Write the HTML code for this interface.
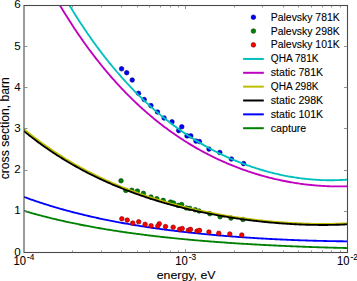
<!DOCTYPE html>
<html><head><meta charset="utf-8"><style>
html,body{margin:0;padding:0;background:#fff;}
svg{display:block;}
</style></head><body>
<svg width="357" height="281" viewBox="0 0 357 281">
<defs><clipPath id="ax"><rect x="24.0" y="5.5" width="323.50" height="247.00"/></clipPath></defs>
<rect width="357" height="281" fill="#fff"/>
<g clip-path="url(#ax)" fill="none" stroke-width="1.85" stroke-linejoin="round">
<circle cx="121.6" cy="68.8" r="2.3" fill="#0000ff" stroke="#000080" stroke-width="0.6"/><circle cx="126.7" cy="72.7" r="2.3" fill="#0000ff" stroke="#000080" stroke-width="0.6"/><circle cx="132.2" cy="80" r="2.3" fill="#0000ff" stroke="#000080" stroke-width="0.6"/><circle cx="138.5" cy="93.3" r="2.3" fill="#0000ff" stroke="#000080" stroke-width="0.6"/><circle cx="144.2" cy="99.5" r="2.3" fill="#0000ff" stroke="#000080" stroke-width="0.6"/><circle cx="150.9" cy="105.6" r="2.3" fill="#0000ff" stroke="#000080" stroke-width="0.6"/><circle cx="157.5" cy="112" r="2.3" fill="#0000ff" stroke="#000080" stroke-width="0.6"/><circle cx="164.1" cy="118" r="2.3" fill="#0000ff" stroke="#000080" stroke-width="0.6"/><circle cx="172" cy="121.8" r="2.3" fill="#0000ff" stroke="#000080" stroke-width="0.6"/><circle cx="181.8" cy="126.8" r="2.3" fill="#0000ff" stroke="#000080" stroke-width="0.6"/><circle cx="178.7" cy="130.6" r="2.3" fill="#0000ff" stroke="#000080" stroke-width="0.6"/><circle cx="187" cy="135.9" r="2.3" fill="#0000ff" stroke="#000080" stroke-width="0.6"/><circle cx="190.8" cy="135.9" r="2.3" fill="#0000ff" stroke="#000080" stroke-width="0.6"/><circle cx="195.9" cy="141.1" r="2.3" fill="#0000ff" stroke="#000080" stroke-width="0.6"/><circle cx="199.4" cy="141.5" r="2.3" fill="#0000ff" stroke="#000080" stroke-width="0.6"/><circle cx="209" cy="149.1" r="2.3" fill="#0000ff" stroke="#000080" stroke-width="0.6"/><circle cx="219.8" cy="152.5" r="2.3" fill="#0000ff" stroke="#000080" stroke-width="0.6"/><circle cx="231.4" cy="159" r="2.3" fill="#0000ff" stroke="#000080" stroke-width="0.6"/><circle cx="243.6" cy="163.6" r="2.3" fill="#0000ff" stroke="#000080" stroke-width="0.6"/><circle cx="121" cy="180.8" r="2.3" fill="#008000" stroke="#004000" stroke-width="0.6"/><circle cx="125.8" cy="190.4" r="2.3" fill="#008000" stroke="#004000" stroke-width="0.6"/><circle cx="131.8" cy="190.2" r="2.3" fill="#008000" stroke="#004000" stroke-width="0.6"/><circle cx="137.4" cy="191.1" r="2.3" fill="#008000" stroke="#004000" stroke-width="0.6"/><circle cx="143.4" cy="193.4" r="2.3" fill="#008000" stroke="#004000" stroke-width="0.6"/><circle cx="150.9" cy="197" r="2.3" fill="#008000" stroke="#004000" stroke-width="0.6"/><circle cx="156.8" cy="198.7" r="2.3" fill="#008000" stroke="#004000" stroke-width="0.6"/><circle cx="163.2" cy="200.4" r="2.3" fill="#008000" stroke="#004000" stroke-width="0.6"/><circle cx="170.5" cy="202.1" r="2.3" fill="#008000" stroke="#004000" stroke-width="0.6"/><circle cx="173.5" cy="203" r="2.3" fill="#008000" stroke="#004000" stroke-width="0.6"/><circle cx="178.1" cy="205.4" r="2.3" fill="#008000" stroke="#004000" stroke-width="0.6"/><circle cx="181.6" cy="204.5" r="2.3" fill="#008000" stroke="#004000" stroke-width="0.6"/><circle cx="186.3" cy="208" r="2.3" fill="#008000" stroke="#004000" stroke-width="0.6"/><circle cx="189.7" cy="208.4" r="2.3" fill="#008000" stroke="#004000" stroke-width="0.6"/><circle cx="195.2" cy="209.7" r="2.3" fill="#008000" stroke="#004000" stroke-width="0.6"/><circle cx="199.1" cy="211" r="2.3" fill="#008000" stroke="#004000" stroke-width="0.6"/><circle cx="209.8" cy="213.7" r="2.3" fill="#008000" stroke="#004000" stroke-width="0.6"/><circle cx="220.1" cy="216.7" r="2.3" fill="#008000" stroke="#004000" stroke-width="0.6"/><circle cx="231" cy="218.1" r="2.3" fill="#008000" stroke="#004000" stroke-width="0.6"/><circle cx="242.9" cy="219.5" r="2.3" fill="#008000" stroke="#004000" stroke-width="0.6"/>
<polyline points="21.00,-91.45 22.27,-88.46 23.54,-85.48 24.82,-82.54 26.09,-79.62 27.36,-76.73 28.63,-73.87 29.91,-71.03 31.18,-68.22 32.45,-65.43 33.72,-62.67 34.99,-59.94 36.27,-57.23 37.54,-54.54 38.81,-51.88 40.08,-49.24 41.36,-46.63 42.63,-44.05 43.90,-41.48 45.17,-38.94 46.44,-36.42 47.72,-33.93 48.99,-31.46 50.26,-29.01 51.53,-26.59 52.81,-24.19 54.08,-21.80 55.35,-19.45 56.62,-17.11 57.89,-14.79 59.17,-12.50 60.44,-10.23 61.71,-7.98 62.98,-5.75 64.25,-3.54 65.53,-1.35 66.80,0.82 68.07,2.97 69.34,5.10 70.62,7.21 71.89,9.30 73.16,11.37 74.43,13.42 75.70,15.45 76.98,17.46 78.25,19.45 79.52,21.43 80.79,23.39 82.07,25.32 83.34,27.24 84.61,29.15 85.88,31.03 87.15,32.90 88.43,34.74 89.70,36.58 90.97,38.39 92.24,40.19 93.52,41.97 94.79,43.73 96.06,45.48 97.33,47.21 98.60,48.92 99.88,50.62 101.15,52.30 102.42,53.97 103.69,55.62 104.97,57.25 106.24,58.87 107.51,60.47 108.78,62.06 110.05,63.63 111.33,65.19 112.60,66.73 113.87,68.26 115.14,69.77 116.42,71.27 117.69,72.75 118.96,74.22 120.23,75.68 121.50,77.12 122.78,78.55 124.05,79.96 125.32,81.36 126.59,82.75 127.86,84.12 129.14,85.48 130.41,86.83 131.68,88.16 132.95,89.48 134.23,90.78 135.50,92.08 136.77,93.36 138.04,94.63 139.31,95.88 140.59,97.13 141.86,98.36 143.13,99.58 144.40,100.79 145.68,101.98 146.95,103.16 148.22,104.33 149.49,105.49 150.76,106.64 152.04,107.78 153.31,108.90 154.58,110.01 155.85,111.12 157.13,112.21 158.40,113.28 159.67,114.35 160.94,115.41 162.21,116.46 163.49,117.49 164.76,118.52 166.03,119.53 167.30,120.53 168.58,121.53 169.85,122.51 171.12,123.48 172.39,124.44 173.66,125.40 174.94,126.34 176.21,127.27 177.48,128.19 178.75,129.10 180.03,130.01 181.30,130.90 182.57,131.78 183.84,132.65 185.11,133.52 186.39,134.37 187.66,135.22 188.93,136.05 190.20,136.88 191.47,137.69 192.75,138.50 194.02,139.30 195.29,140.09 196.56,140.87 197.84,141.64 199.11,142.40 200.38,143.16 201.65,143.90 202.92,144.64 204.20,145.37 205.47,146.08 206.74,146.79 208.01,147.50 209.29,148.19 210.56,148.88 211.83,149.55 213.10,150.22 214.37,150.88 215.65,151.53 216.92,152.18 218.19,152.81 219.46,153.44 220.74,154.06 222.01,154.67 223.28,155.28 224.55,155.87 225.82,156.46 227.10,157.04 228.37,157.61 229.64,158.18 230.91,158.74 232.19,159.29 233.46,159.83 234.73,160.36 236.00,160.89 237.27,161.41 238.55,161.92 239.82,162.42 241.09,162.92 242.36,163.41 243.64,163.89 244.91,164.37 246.18,164.84 247.45,165.30 248.72,165.75 250.00,166.19 251.27,166.63 252.54,167.07 253.81,167.49 255.08,167.91 256.36,168.32 257.63,168.72 258.90,169.12 260.17,169.50 261.45,169.89 262.72,170.26 263.99,170.63 265.26,170.99 266.53,171.34 267.81,171.69 269.08,172.03 270.35,172.37 271.62,172.69 272.90,173.01 274.17,173.32 275.44,173.63 276.71,173.93 277.98,174.22 279.26,174.50 280.53,174.78 281.80,175.05 283.07,175.32 284.35,175.58 285.62,175.83 286.89,176.07 288.16,176.31 289.43,176.54 290.71,176.76 291.98,176.98 293.25,177.19 294.52,177.39 295.80,177.59 297.07,177.78 298.34,177.96 299.61,178.14 300.88,178.31 302.16,178.47 303.43,178.62 304.70,178.77 305.97,178.91 307.25,179.05 308.52,179.17 309.79,179.29 311.06,179.41 312.33,179.51 313.61,179.61 314.88,179.70 316.15,179.79 317.42,179.87 318.69,179.94 319.97,180.00 321.24,180.06 322.51,180.11 323.78,180.15 325.06,180.19 326.33,180.21 327.60,180.23 328.87,180.25 330.14,180.25 331.42,180.25 332.69,180.24 333.96,180.23 335.23,180.20 336.51,180.17 337.78,180.13 339.05,180.08 340.32,180.03 341.59,179.97 342.87,179.90 344.14,179.82 345.41,179.73 346.68,179.64 347.96,179.54 349.23,179.43 350.50,179.31" stroke="#00bfbf"/>
<polyline points="21.00,-70.20 22.27,-67.38 23.54,-64.59 24.82,-61.82 26.09,-59.07 27.36,-56.35 28.63,-53.66 29.91,-50.99 31.18,-48.34 32.45,-45.72 33.72,-43.12 34.99,-40.55 36.27,-38.00 37.54,-35.48 38.81,-32.97 40.08,-30.49 41.36,-28.04 42.63,-25.60 43.90,-23.19 45.17,-20.80 46.44,-18.44 47.72,-16.09 48.99,-13.77 50.26,-11.46 51.53,-9.18 52.81,-6.92 54.08,-4.69 55.35,-2.47 56.62,-0.27 57.89,1.91 59.17,4.06 60.44,6.20 61.71,8.32 62.98,10.41 64.25,12.49 65.53,14.55 66.80,16.59 68.07,18.61 69.34,20.61 70.62,22.59 71.89,24.56 73.16,26.50 74.43,28.43 75.70,30.34 76.98,32.23 78.25,34.11 79.52,35.96 80.79,37.80 82.07,39.62 83.34,41.43 84.61,43.22 85.88,44.99 87.15,46.74 88.43,48.48 89.70,50.20 90.97,51.90 92.24,53.59 93.52,55.27 94.79,56.92 96.06,58.56 97.33,60.19 98.60,61.80 99.88,63.39 101.15,64.97 102.42,66.54 103.69,68.09 104.97,69.62 106.24,71.14 107.51,72.65 108.78,74.14 110.05,75.62 111.33,77.08 112.60,78.53 113.87,79.96 115.14,81.39 116.42,82.79 117.69,84.19 118.96,85.57 120.23,86.93 121.50,88.29 122.78,89.63 124.05,90.95 125.32,92.27 126.59,93.57 127.86,94.86 129.14,96.14 130.41,97.40 131.68,98.65 132.95,99.89 134.23,101.12 135.50,102.33 136.77,103.53 138.04,104.73 139.31,105.90 140.59,107.07 141.86,108.23 143.13,109.37 144.40,110.50 145.68,111.63 146.95,112.74 148.22,113.83 149.49,114.92 150.76,116.00 152.04,117.06 153.31,118.12 154.58,119.16 155.85,120.20 157.13,121.22 158.40,122.23 159.67,123.24 160.94,124.23 162.21,125.21 163.49,126.18 164.76,127.14 166.03,128.09 167.30,129.04 168.58,129.97 169.85,130.89 171.12,131.80 172.39,132.70 173.66,133.60 174.94,134.48 176.21,135.36 177.48,136.22 178.75,137.08 180.03,137.92 181.30,138.76 182.57,139.59 183.84,140.41 185.11,141.22 186.39,142.02 187.66,142.81 188.93,143.59 190.20,144.37 191.47,145.14 192.75,145.89 194.02,146.64 195.29,147.38 196.56,148.12 197.84,148.84 199.11,149.56 200.38,150.26 201.65,150.96 202.92,151.66 204.20,152.34 205.47,153.01 206.74,153.68 208.01,154.34 209.29,154.99 210.56,155.64 211.83,156.27 213.10,156.90 214.37,157.52 215.65,158.14 216.92,158.74 218.19,159.34 219.46,159.93 220.74,160.51 222.01,161.09 223.28,161.66 224.55,162.22 225.82,162.77 227.10,163.32 228.37,163.86 229.64,164.39 230.91,164.92 232.19,165.44 233.46,165.95 234.73,166.45 236.00,166.95 237.27,167.44 238.55,167.92 239.82,168.40 241.09,168.87 242.36,169.33 243.64,169.79 244.91,170.24 246.18,170.68 247.45,171.12 248.72,171.55 250.00,171.98 251.27,172.39 252.54,172.80 253.81,173.21 255.08,173.60 256.36,174.00 257.63,174.38 258.90,174.76 260.17,175.13 261.45,175.50 262.72,175.86 263.99,176.21 265.26,176.56 266.53,176.90 267.81,177.23 269.08,177.56 270.35,177.88 271.62,178.20 272.90,178.51 274.17,178.81 275.44,179.11 276.71,179.40 277.98,179.69 279.26,179.97 280.53,180.24 281.80,180.51 283.07,180.77 284.35,181.03 285.62,181.28 286.89,181.52 288.16,181.76 289.43,181.99 290.71,182.22 291.98,182.44 293.25,182.65 294.52,182.86 295.80,183.06 297.07,183.26 298.34,183.45 299.61,183.63 300.88,183.81 302.16,183.98 303.43,184.15 304.70,184.31 305.97,184.47 307.25,184.62 308.52,184.76 309.79,184.90 311.06,185.03 312.33,185.15 313.61,185.27 314.88,185.39 316.15,185.50 317.42,185.60 318.69,185.70 319.97,185.79 321.24,185.87 322.51,185.95 323.78,186.02 325.06,186.09 326.33,186.15 327.60,186.21 328.87,186.26 330.14,186.30 331.42,186.34 332.69,186.37 333.96,186.39 335.23,186.41 336.51,186.43 337.78,186.43 339.05,186.43 340.32,186.43 341.59,186.42 342.87,186.40 344.14,186.38 345.41,186.35 346.68,186.31 347.96,186.27 349.23,186.22 350.50,186.17" stroke="#bf00bf"/>
<polyline points="21.00,126.68 22.27,127.74 23.54,128.80 24.82,129.84 26.09,130.88 27.36,131.91 28.63,132.93 29.91,133.94 31.18,134.93 32.45,135.93 33.72,136.91 34.99,137.88 36.27,138.84 37.54,139.80 38.81,140.75 40.08,141.68 41.36,142.61 42.63,143.53 43.90,144.45 45.17,145.35 46.44,146.25 47.72,147.13 48.99,148.01 50.26,148.88 51.53,149.75 52.81,150.60 54.08,151.45 55.35,152.29 56.62,153.12 57.89,153.95 59.17,154.77 60.44,155.57 61.71,156.38 62.98,157.17 64.25,157.96 65.53,158.74 66.80,159.51 68.07,160.28 69.34,161.04 70.62,161.79 71.89,162.54 73.16,163.27 74.43,164.01 75.70,164.73 76.98,165.45 78.25,166.16 79.52,166.87 80.79,167.56 82.07,168.26 83.34,168.94 84.61,169.62 85.88,170.29 87.15,170.96 88.43,171.62 89.70,172.28 90.97,172.93 92.24,173.57 93.52,174.20 94.79,174.84 96.06,175.46 97.33,176.08 98.60,176.69 99.88,177.30 101.15,177.90 102.42,178.50 103.69,179.09 104.97,179.67 106.24,180.25 107.51,180.83 108.78,181.40 110.05,181.96 111.33,182.52 112.60,183.07 113.87,183.62 115.14,184.16 116.42,184.70 117.69,185.23 118.96,185.76 120.23,186.28 121.50,186.80 122.78,187.31 124.05,187.82 125.32,188.32 126.59,188.82 127.86,189.31 129.14,189.80 130.41,190.29 131.68,190.77 132.95,191.24 134.23,191.71 135.50,192.18 136.77,192.64 138.04,193.09 139.31,193.55 140.59,194.00 141.86,194.44 143.13,194.88 144.40,195.31 145.68,195.74 146.95,196.17 148.22,196.59 149.49,197.01 150.76,197.43 152.04,197.84 153.31,198.24 154.58,198.64 155.85,199.04 157.13,199.44 158.40,199.83 159.67,200.21 160.94,200.60 162.21,200.97 163.49,201.35 164.76,201.72 166.03,202.09 167.30,202.45 168.58,202.81 169.85,203.17 171.12,203.52 172.39,203.87 173.66,204.22 174.94,204.56 176.21,204.90 177.48,205.23 178.75,205.56 180.03,205.89 181.30,206.21 182.57,206.53 183.84,206.85 185.11,207.17 186.39,207.48 187.66,207.78 188.93,208.09 190.20,208.39 191.47,208.69 192.75,208.98 194.02,209.27 195.29,209.56 196.56,209.84 197.84,210.13 199.11,210.40 200.38,210.68 201.65,210.95 202.92,211.22 204.20,211.49 205.47,211.75 206.74,212.01 208.01,212.27 209.29,212.52 210.56,212.77 211.83,213.02 213.10,213.26 214.37,213.50 215.65,213.74 216.92,213.98 218.19,214.21 219.46,214.44 220.74,214.67 222.01,214.89 223.28,215.12 224.55,215.33 225.82,215.55 227.10,215.76 228.37,215.97 229.64,216.18 230.91,216.39 232.19,216.59 233.46,216.79 234.73,216.98 236.00,217.18 237.27,217.37 238.55,217.55 239.82,217.74 241.09,217.92 242.36,218.10 243.64,218.28 244.91,218.45 246.18,218.62 247.45,218.79 248.72,218.96 250.00,219.12 251.27,219.28 252.54,219.44 253.81,219.60 255.08,219.75 256.36,219.90 257.63,220.05 258.90,220.19 260.17,220.33 261.45,220.47 262.72,220.61 263.99,220.74 265.26,220.87 266.53,221.00 267.81,221.13 269.08,221.25 270.35,221.37 271.62,221.49 272.90,221.60 274.17,221.72 275.44,221.83 276.71,221.93 277.98,222.04 279.26,222.14 280.53,222.24 281.80,222.33 283.07,222.43 284.35,222.52 285.62,222.61 286.89,222.69 288.16,222.77 289.43,222.85 290.71,222.93 291.98,223.00 293.25,223.08 294.52,223.14 295.80,223.21 297.07,223.27 298.34,223.33 299.61,223.39 300.88,223.44 302.16,223.50 303.43,223.54 304.70,223.59 305.97,223.63 307.25,223.67 308.52,223.71 309.79,223.74 311.06,223.77 312.33,223.80 313.61,223.82 314.88,223.84 316.15,223.86 317.42,223.88 318.69,223.89 319.97,223.90 321.24,223.90 322.51,223.91 323.78,223.90 325.06,223.90 326.33,223.89 327.60,223.88 328.87,223.87 330.14,223.85 331.42,223.83 332.69,223.80 333.96,223.78 335.23,223.74 336.51,223.71 337.78,223.67 339.05,223.63 340.32,223.58 341.59,223.53 342.87,223.48 344.14,223.42 345.41,223.36 346.68,223.30 347.96,223.23 349.23,223.15 350.50,223.08" stroke="#bfbf00"/>
<polyline points="21.00,128.71 22.27,129.77 23.54,130.81 24.82,131.85 26.09,132.88 27.36,133.89 28.63,134.90 29.91,135.90 31.18,136.89 32.45,137.87 33.72,138.84 34.99,139.81 36.27,140.76 37.54,141.71 38.81,142.64 40.08,143.57 41.36,144.49 42.63,145.40 43.90,146.31 45.17,147.20 46.44,148.09 47.72,148.97 48.99,149.84 50.26,150.70 51.53,151.56 52.81,152.40 54.08,153.24 55.35,154.07 56.62,154.90 57.89,155.72 59.17,156.52 60.44,157.33 61.71,158.12 62.98,158.91 64.25,159.69 65.53,160.46 66.80,161.23 68.07,161.98 69.34,162.74 70.62,163.48 71.89,164.22 73.16,164.95 74.43,165.67 75.70,166.39 76.98,167.10 78.25,167.81 79.52,168.51 80.79,169.20 82.07,169.88 83.34,170.56 84.61,171.23 85.88,171.90 87.15,172.56 88.43,173.22 89.70,173.86 90.97,174.51 92.24,175.14 93.52,175.77 94.79,176.40 96.06,177.01 97.33,177.63 98.60,178.23 99.88,178.84 101.15,179.43 102.42,180.02 103.69,180.61 104.97,181.19 106.24,181.76 107.51,182.33 108.78,182.89 110.05,183.45 111.33,184.00 112.60,184.55 113.87,185.09 115.14,185.63 116.42,186.16 117.69,186.69 118.96,187.21 120.23,187.73 121.50,188.24 122.78,188.75 124.05,189.25 125.32,189.75 126.59,190.24 127.86,190.73 129.14,191.22 130.41,191.69 131.68,192.17 132.95,192.64 134.23,193.11 135.50,193.57 136.77,194.02 138.04,194.48 139.31,194.92 140.59,195.37 141.86,195.81 143.13,196.24 144.40,196.67 145.68,197.10 146.95,197.52 148.22,197.94 149.49,198.35 150.76,198.76 152.04,199.17 153.31,199.57 154.58,199.97 155.85,200.36 157.13,200.75 158.40,201.14 159.67,201.52 160.94,201.90 162.21,202.28 163.49,202.65 164.76,203.02 166.03,203.38 167.30,203.74 168.58,204.10 169.85,204.45 171.12,204.80 172.39,205.14 173.66,205.49 174.94,205.82 176.21,206.16 177.48,206.49 178.75,206.82 180.03,207.14 181.30,207.46 182.57,207.78 183.84,208.10 185.11,208.41 186.39,208.71 187.66,209.02 188.93,209.32 190.20,209.62 191.47,209.91 192.75,210.20 194.02,210.49 195.29,210.78 196.56,211.06 197.84,211.34 199.11,211.61 200.38,211.89 201.65,212.16 202.92,212.42 204.20,212.68 205.47,212.95 206.74,213.20 208.01,213.46 209.29,213.71 210.56,213.96 211.83,214.20 213.10,214.44 214.37,214.68 215.65,214.92 216.92,215.15 218.19,215.38 219.46,215.61 220.74,215.84 222.01,216.06 223.28,216.28 224.55,216.49 225.82,216.71 227.10,216.92 228.37,217.13 229.64,217.33 230.91,217.53 232.19,217.73 233.46,217.93 234.73,218.13 236.00,218.32 237.27,218.51 238.55,218.69 239.82,218.88 241.09,219.06 242.36,219.23 243.64,219.41 244.91,219.58 246.18,219.75 247.45,219.92 248.72,220.08 250.00,220.24 251.27,220.40 252.54,220.56 253.81,220.71 255.08,220.87 256.36,221.01 257.63,221.16 258.90,221.30 260.17,221.44 261.45,221.58 262.72,221.72 263.99,221.85 265.26,221.98 266.53,222.11 267.81,222.23 269.08,222.35 270.35,222.47 271.62,222.59 272.90,222.70 274.17,222.81 275.44,222.92 276.71,223.03 277.98,223.13 279.26,223.23 280.53,223.33 281.80,223.43 283.07,223.52 284.35,223.61 285.62,223.69 286.89,223.78 288.16,223.86 289.43,223.94 290.71,224.02 291.98,224.09 293.25,224.16 294.52,224.23 295.80,224.29 297.07,224.35 298.34,224.41 299.61,224.47 300.88,224.52 302.16,224.57 303.43,224.62 304.70,224.67 305.97,224.71 307.25,224.75 308.52,224.78 309.79,224.82 311.06,224.85 312.33,224.87 313.61,224.90 314.88,224.92 316.15,224.94 317.42,224.95 318.69,224.96 319.97,224.97 321.24,224.98 322.51,224.98 323.78,224.98 325.06,224.98 326.33,224.97 327.60,224.96 328.87,224.94 330.14,224.93 331.42,224.90 332.69,224.88 333.96,224.85 335.23,224.82 336.51,224.79 337.78,224.75 339.05,224.71 340.32,224.66 341.59,224.61 342.87,224.56 344.14,224.50 345.41,224.44 346.68,224.38 347.96,224.31 349.23,224.24 350.50,224.16" stroke="#000"/>
<polyline points="21.00,195.83 22.27,196.31 23.54,196.78 24.82,197.25 26.09,197.71 27.36,198.17 28.63,198.63 29.91,199.08 31.18,199.53 32.45,199.97 33.72,200.41 34.99,200.85 36.27,201.28 37.54,201.71 38.81,202.13 40.08,202.55 41.36,202.97 42.63,203.38 43.90,203.79 45.17,204.19 46.44,204.59 47.72,204.99 48.99,205.39 50.26,205.78 51.53,206.16 52.81,206.55 54.08,206.93 55.35,207.30 56.62,207.68 57.89,208.05 59.17,208.41 60.44,208.78 61.71,209.13 62.98,209.49 64.25,209.84 65.53,210.19 66.80,210.54 68.07,210.88 69.34,211.23 70.62,211.56 71.89,211.90 73.16,212.23 74.43,212.56 75.70,212.88 76.98,213.20 78.25,213.52 79.52,213.84 80.79,214.15 82.07,214.46 83.34,214.77 84.61,215.08 85.88,215.38 87.15,215.68 88.43,215.98 89.70,216.27 90.97,216.56 92.24,216.85 93.52,217.14 94.79,217.42 96.06,217.70 97.33,217.98 98.60,218.25 99.88,218.53 101.15,218.80 102.42,219.06 103.69,219.33 104.97,219.59 106.24,219.85 107.51,220.11 108.78,220.37 110.05,220.62 111.33,220.87 112.60,221.12 113.87,221.37 115.14,221.61 116.42,221.86 117.69,222.10 118.96,222.33 120.23,222.57 121.50,222.80 122.78,223.03 124.05,223.26 125.32,223.49 126.59,223.71 127.86,223.94 129.14,224.16 130.41,224.38 131.68,224.59 132.95,224.81 134.23,225.02 135.50,225.23 136.77,225.44 138.04,225.65 139.31,225.85 140.59,226.05 141.86,226.25 143.13,226.45 144.40,226.65 145.68,226.84 146.95,227.04 148.22,227.23 149.49,227.42 150.76,227.61 152.04,227.79 153.31,227.98 154.58,228.16 155.85,228.34 157.13,228.52 158.40,228.70 159.67,228.87 160.94,229.05 162.21,229.22 163.49,229.39 164.76,229.56 166.03,229.73 167.30,229.90 168.58,230.06 169.85,230.22 171.12,230.38 172.39,230.54 173.66,230.70 174.94,230.86 176.21,231.01 177.48,231.17 178.75,231.32 180.03,231.47 181.30,231.62 182.57,231.77 183.84,231.91 185.11,232.06 186.39,232.20 187.66,232.34 188.93,232.48 190.20,232.62 191.47,232.76 192.75,232.90 194.02,233.03 195.29,233.17 196.56,233.30 197.84,233.43 199.11,233.56 200.38,233.69 201.65,233.81 202.92,233.94 204.20,234.06 205.47,234.19 206.74,234.31 208.01,234.43 209.29,234.55 210.56,234.67 211.83,234.79 213.10,234.90 214.37,235.02 215.65,235.13 216.92,235.24 218.19,235.35 219.46,235.46 220.74,235.57 222.01,235.68 223.28,235.78 224.55,235.89 225.82,235.99 227.10,236.10 228.37,236.20 229.64,236.30 230.91,236.40 232.19,236.50 233.46,236.59 234.73,236.69 236.00,236.79 237.27,236.88 238.55,236.97 239.82,237.06 241.09,237.16 242.36,237.25 243.64,237.33 244.91,237.42 246.18,237.51 247.45,237.59 248.72,237.68 250.00,237.76 251.27,237.84 252.54,237.93 253.81,238.01 255.08,238.09 256.36,238.17 257.63,238.24 258.90,238.32 260.17,238.39 261.45,238.47 262.72,238.54 263.99,238.62 265.26,238.69 266.53,238.76 267.81,238.83 269.08,238.90 270.35,238.96 271.62,239.03 272.90,239.10 274.17,239.16 275.44,239.23 276.71,239.29 277.98,239.35 279.26,239.41 280.53,239.47 281.80,239.53 283.07,239.59 284.35,239.65 285.62,239.70 286.89,239.76 288.16,239.82 289.43,239.87 290.71,239.92 291.98,239.97 293.25,240.02 294.52,240.07 295.80,240.12 297.07,240.17 298.34,240.22 299.61,240.27 300.88,240.31 302.16,240.36 303.43,240.40 304.70,240.44 305.97,240.48 307.25,240.53 308.52,240.57 309.79,240.60 311.06,240.64 312.33,240.68 313.61,240.72 314.88,240.75 316.15,240.79 317.42,240.82 318.69,240.85 319.97,240.88 321.24,240.92 322.51,240.95 323.78,240.97 325.06,241.00 326.33,241.03 327.60,241.06 328.87,241.08 330.14,241.10 331.42,241.13 332.69,241.15 333.96,241.17 335.23,241.19 336.51,241.21 337.78,241.23 339.05,241.25 340.32,241.26 341.59,241.28 342.87,241.29 344.14,241.31 345.41,241.32 346.68,241.33 347.96,241.34 349.23,241.35 350.50,241.36" stroke="#0000ff"/>
<circle cx="121.8" cy="218.8" r="2.3" fill="#ff0000" stroke="#800000" stroke-width="0.6"/><circle cx="127.2" cy="220.1" r="2.3" fill="#ff0000" stroke="#800000" stroke-width="0.6"/><circle cx="132.7" cy="223.1" r="2.3" fill="#ff0000" stroke="#800000" stroke-width="0.6"/><circle cx="138.7" cy="221.8" r="2.3" fill="#ff0000" stroke="#800000" stroke-width="0.6"/><circle cx="145.1" cy="224.4" r="2.3" fill="#ff0000" stroke="#800000" stroke-width="0.6"/><circle cx="151.1" cy="225.7" r="2.3" fill="#ff0000" stroke="#800000" stroke-width="0.6"/><circle cx="159.3" cy="223.8" r="2.3" fill="#ff0000" stroke="#800000" stroke-width="0.6"/><circle cx="157.8" cy="226" r="2.3" fill="#ff0000" stroke="#800000" stroke-width="0.6"/><circle cx="165.5" cy="226.6" r="2.3" fill="#ff0000" stroke="#800000" stroke-width="0.6"/><circle cx="173.2" cy="227.2" r="2.3" fill="#ff0000" stroke="#800000" stroke-width="0.6"/><circle cx="179.6" cy="229.4" r="2.3" fill="#ff0000" stroke="#800000" stroke-width="0.6"/><circle cx="182.2" cy="228.5" r="2.3" fill="#ff0000" stroke="#800000" stroke-width="0.6"/><circle cx="188.4" cy="230.3" r="2.3" fill="#ff0000" stroke="#800000" stroke-width="0.6"/><circle cx="190.5" cy="229.4" r="2.3" fill="#ff0000" stroke="#800000" stroke-width="0.6"/><circle cx="197" cy="231.1" r="2.3" fill="#ff0000" stroke="#800000" stroke-width="0.6"/><circle cx="199.5" cy="230.4" r="2.3" fill="#ff0000" stroke="#800000" stroke-width="0.6"/><circle cx="208.9" cy="232" r="2.3" fill="#ff0000" stroke="#800000" stroke-width="0.6"/><circle cx="218.8" cy="233.3" r="2.3" fill="#ff0000" stroke="#800000" stroke-width="0.6"/><circle cx="229.8" cy="234" r="2.3" fill="#ff0000" stroke="#800000" stroke-width="0.6"/><circle cx="241.8" cy="235" r="2.3" fill="#ff0000" stroke="#800000" stroke-width="0.6"/>
<polyline points="21.00,209.97 22.27,210.35 23.54,210.73 24.82,211.11 26.09,211.48 27.36,211.85 28.63,212.22 29.91,212.58 31.18,212.94 32.45,213.30 33.72,213.65 34.99,214.00 36.27,214.35 37.54,214.69 38.81,215.03 40.08,215.37 41.36,215.71 42.63,216.04 43.90,216.37 45.17,216.69 46.44,217.02 47.72,217.34 48.99,217.65 50.26,217.97 51.53,218.28 52.81,218.59 54.08,218.90 55.35,219.20 56.62,219.50 57.89,219.80 59.17,220.09 60.44,220.38 61.71,220.67 62.98,220.96 64.25,221.25 65.53,221.53 66.80,221.81 68.07,222.08 69.34,222.36 70.62,222.63 71.89,222.90 73.16,223.17 74.43,223.43 75.70,223.69 76.98,223.95 78.25,224.21 79.52,224.47 80.79,224.72 82.07,224.97 83.34,225.22 84.61,225.47 85.88,225.71 87.15,225.95 88.43,226.19 89.70,226.43 90.97,226.66 92.24,226.90 93.52,227.13 94.79,227.36 96.06,227.59 97.33,227.81 98.60,228.03 99.88,228.25 101.15,228.47 102.42,228.69 103.69,228.91 104.97,229.12 106.24,229.33 107.51,229.54 108.78,229.75 110.05,229.95 111.33,230.16 112.60,230.36 113.87,230.56 115.14,230.76 116.42,230.95 117.69,231.15 118.96,231.34 120.23,231.53 121.50,231.72 122.78,231.91 124.05,232.09 125.32,232.28 126.59,232.46 127.86,232.64 129.14,232.82 130.41,233.00 131.68,233.18 132.95,233.35 134.23,233.52 135.50,233.70 136.77,233.87 138.04,234.03 139.31,234.20 140.59,234.37 141.86,234.53 143.13,234.69 144.40,234.85 145.68,235.01 146.95,235.17 148.22,235.33 149.49,235.48 150.76,235.64 152.04,235.79 153.31,235.94 154.58,236.09 155.85,236.24 157.13,236.39 158.40,236.53 159.67,236.68 160.94,236.82 162.21,236.96 163.49,237.10 164.76,237.24 166.03,237.38 167.30,237.52 168.58,237.65 169.85,237.79 171.12,237.92 172.39,238.05 173.66,238.18 174.94,238.31 176.21,238.44 177.48,238.57 178.75,238.69 180.03,238.82 181.30,238.94 182.57,239.06 183.84,239.18 185.11,239.31 186.39,239.42 187.66,239.54 188.93,239.66 190.20,239.78 191.47,239.89 192.75,240.00 194.02,240.12 195.29,240.23 196.56,240.34 197.84,240.45 199.11,240.56 200.38,240.67 201.65,240.77 202.92,240.88 204.20,240.99 205.47,241.09 206.74,241.19 208.01,241.29 209.29,241.40 210.56,241.50 211.83,241.59 213.10,241.69 214.37,241.79 215.65,241.89 216.92,241.98 218.19,242.08 219.46,242.17 220.74,242.26 222.01,242.36 223.28,242.45 224.55,242.54 225.82,242.63 227.10,242.72 228.37,242.81 229.64,242.89 230.91,242.98 232.19,243.06 233.46,243.15 234.73,243.23 236.00,243.32 237.27,243.40 238.55,243.48 239.82,243.56 241.09,243.64 242.36,243.72 243.64,243.80 244.91,243.88 246.18,243.95 247.45,244.03 248.72,244.11 250.00,244.18 251.27,244.25 252.54,244.33 253.81,244.40 255.08,244.47 256.36,244.54 257.63,244.61 258.90,244.68 260.17,244.75 261.45,244.82 262.72,244.89 263.99,244.96 265.26,245.02 266.53,245.09 267.81,245.15 269.08,245.22 270.35,245.28 271.62,245.35 272.90,245.41 274.17,245.47 275.44,245.53 276.71,245.59 277.98,245.65 279.26,245.71 280.53,245.77 281.80,245.83 283.07,245.89 284.35,245.94 285.62,246.00 286.89,246.06 288.16,246.11 289.43,246.17 290.71,246.22 291.98,246.27 293.25,246.33 294.52,246.38 295.80,246.43 297.07,246.48 298.34,246.53 299.61,246.58 300.88,246.63 302.16,246.68 303.43,246.73 304.70,246.78 305.97,246.82 307.25,246.87 308.52,246.92 309.79,246.96 311.06,247.01 312.33,247.05 313.61,247.10 314.88,247.14 316.15,247.18 317.42,247.22 318.69,247.26 319.97,247.31 321.24,247.35 322.51,247.39 323.78,247.43 325.06,247.47 326.33,247.50 327.60,247.54 328.87,247.58 330.14,247.62 331.42,247.65 332.69,247.69 333.96,247.72 335.23,247.76 336.51,247.79 337.78,247.83 339.05,247.86 340.32,247.89 341.59,247.92 342.87,247.95 344.14,247.99 345.41,248.02 346.68,248.05 347.96,248.08 349.23,248.10 350.50,248.13" stroke="#008000"/>
</g>
<rect x="24.0" y="5.5" width="323.50" height="247.00" fill="none" stroke="#4a4a4a" stroke-width="1.1"/>
<path d="M72.50,252.5v-2M72.50,5.5v2M101.50,252.5v-2M101.50,5.5v2M121.50,252.5v-2M121.50,5.5v2M137.50,252.5v-2M137.50,5.5v2M149.50,252.5v-2M149.50,5.5v2M160.50,252.5v-2M160.50,5.5v2M170.50,252.5v-2M170.50,5.5v2M178.50,252.5v-2M178.50,5.5v2M185.50,252.5v-3.5M185.50,5.5v3.5M234.50,252.5v-2M234.50,5.5v2M262.50,252.5v-2M262.50,5.5v2M283.50,252.5v-2M283.50,5.5v2M298.50,252.5v-2M298.50,5.5v2M311.50,252.5v-2M311.50,5.5v2M322.50,252.5v-2M322.50,5.5v2M331.50,252.5v-2M331.50,5.5v2M340.50,252.5v-2M340.50,5.5v2M24.0,211.50h3.5M347.5,211.50h-3.5M24.0,170.50h3.5M347.5,170.50h-3.5M24.0,128.50h3.5M347.5,128.50h-3.5M24.0,87.50h3.5M347.5,87.50h-3.5M24.0,46.50h3.5M347.5,46.50h-3.5" stroke="#777" stroke-width="0.8" fill="none"/>
<text x="20.7" y="255.60" text-anchor="end" font-size="11.6" font-family="Liberation Sans, sans-serif">0</text><text x="20.7" y="214.40" text-anchor="end" font-size="11.6" font-family="Liberation Sans, sans-serif">1</text><text x="20.7" y="173.20" text-anchor="end" font-size="11.6" font-family="Liberation Sans, sans-serif">2</text><text x="20.7" y="132.00" text-anchor="end" font-size="11.6" font-family="Liberation Sans, sans-serif">3</text><text x="20.7" y="90.80" text-anchor="end" font-size="11.6" font-family="Liberation Sans, sans-serif">4</text><text x="20.7" y="49.60" text-anchor="end" font-size="11.6" font-family="Liberation Sans, sans-serif">5</text><text x="20.7" y="8.40" text-anchor="end" font-size="11.6" font-family="Liberation Sans, sans-serif">6</text>
<text x="13.50" y="264.9" font-size="12" font-family="Liberation Sans, sans-serif" stroke="#000" stroke-width="0.1" textLength="12.5" lengthAdjust="spacingAndGlyphs">10</text><text x="27.10" y="259.9" font-size="8.3" font-family="Liberation Sans, sans-serif" stroke="#000" stroke-width="0.1">-4</text><text x="175.20" y="264.9" font-size="12" font-family="Liberation Sans, sans-serif" stroke="#000" stroke-width="0.1" textLength="12.5" lengthAdjust="spacingAndGlyphs">10</text><text x="188.80" y="259.9" font-size="8.3" font-family="Liberation Sans, sans-serif" stroke="#000" stroke-width="0.1">-3</text><text x="336.90" y="264.9" font-size="12" font-family="Liberation Sans, sans-serif" stroke="#000" stroke-width="0.1" textLength="12.5" lengthAdjust="spacingAndGlyphs">10</text><text x="350.50" y="259.9" font-size="8.3" font-family="Liberation Sans, sans-serif" stroke="#000" stroke-width="0.1">-2</text>
<text x="156.7" y="278.7" font-size="11.6" font-family="Liberation Sans, sans-serif" stroke="#000" stroke-width="0.1" textLength="58.8" lengthAdjust="spacingAndGlyphs">energy, eV</text>
<text transform="translate(8.9,179.3) rotate(-90)" font-size="12.2" font-family="Liberation Sans, sans-serif" stroke="#000" stroke-width="0.1" textLength="102.2" lengthAdjust="spacingAndGlyphs">cross section, barn</text>
<circle cx="253.4" cy="17.20" r="2.3" fill="#0000ff" stroke="#000080" stroke-width="0.6"/><text x="270.8" y="20.70" font-size="10" font-family="Liberation Sans, sans-serif" stroke="#000" stroke-width="0.1" textLength="68.9" lengthAdjust="spacingAndGlyphs">Palevsky 781K</text><circle cx="253.4" cy="31.05" r="2.3" fill="#008000" stroke="#004000" stroke-width="0.6"/><text x="270.8" y="34.55" font-size="10" font-family="Liberation Sans, sans-serif" stroke="#000" stroke-width="0.1" textLength="68.9" lengthAdjust="spacingAndGlyphs">Palevsky 298K</text><circle cx="253.4" cy="44.90" r="2.3" fill="#ff0000" stroke="#800000" stroke-width="0.6"/><text x="270.8" y="48.40" font-size="10" font-family="Liberation Sans, sans-serif" stroke="#000" stroke-width="0.1" textLength="68.9" lengthAdjust="spacingAndGlyphs">Palevsky 101K</text><path d="M243.1,58.95H263.8" stroke="#00bfbf" stroke-width="2"/><text x="270.8" y="62.25" font-size="10" font-family="Liberation Sans, sans-serif" stroke="#000" stroke-width="0.1" textLength="47.8" lengthAdjust="spacingAndGlyphs">QHA 781K</text><path d="M243.1,72.80H263.8" stroke="#bf00bf" stroke-width="2"/><text x="270.8" y="76.10" font-size="10" font-family="Liberation Sans, sans-serif" stroke="#000" stroke-width="0.1" textLength="52.4" lengthAdjust="spacingAndGlyphs">static 781K</text><path d="M243.1,86.65H263.8" stroke="#bfbf00" stroke-width="2"/><text x="270.8" y="89.95" font-size="10" font-family="Liberation Sans, sans-serif" stroke="#000" stroke-width="0.1" textLength="47.8" lengthAdjust="spacingAndGlyphs">QHA 298K</text><path d="M243.1,100.50H263.8" stroke="#000000" stroke-width="2"/><text x="270.8" y="103.80" font-size="10" font-family="Liberation Sans, sans-serif" stroke="#000" stroke-width="0.1" textLength="52.4" lengthAdjust="spacingAndGlyphs">static 298K</text><path d="M243.1,114.35H263.8" stroke="#0000ff" stroke-width="2"/><text x="270.8" y="117.65" font-size="10" font-family="Liberation Sans, sans-serif" stroke="#000" stroke-width="0.1" textLength="52.4" lengthAdjust="spacingAndGlyphs">static 101K</text><path d="M243.1,128.20H263.8" stroke="#008000" stroke-width="2"/><text x="270.8" y="131.50" font-size="10" font-family="Liberation Sans, sans-serif" stroke="#000" stroke-width="0.1" textLength="35.5" lengthAdjust="spacingAndGlyphs">capture</text>
</svg>
</body></html>
